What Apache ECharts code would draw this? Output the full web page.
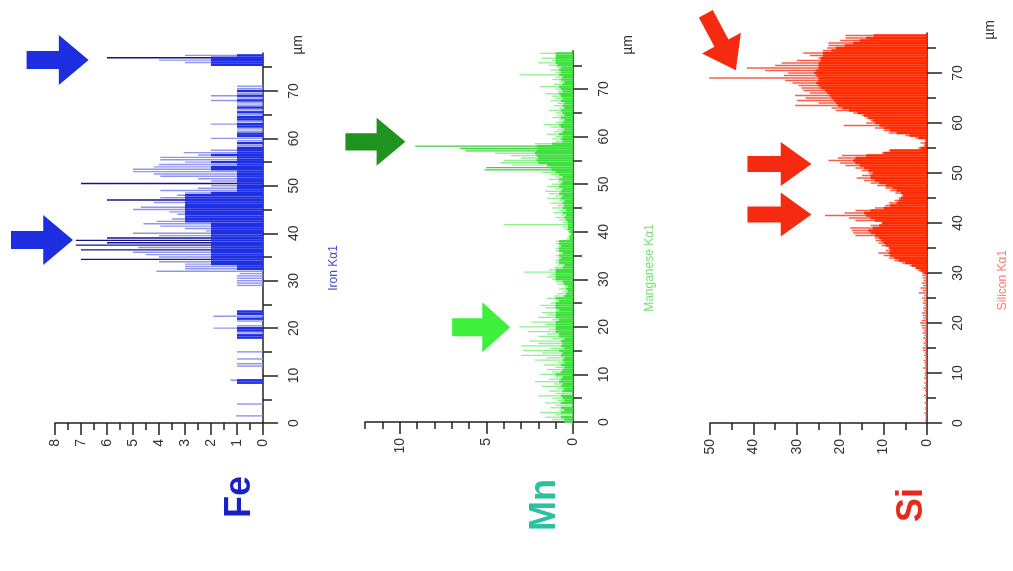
<!DOCTYPE html>
<html><head><meta charset="utf-8">
<script src="https://cdn.jsdelivr.net/npm/echarts@6/dist/echarts.min.js"></script>
<style>html,body{margin:0;padding:0;background:#fff}#c{width:1013px;height:571px}</style>
</head><body><div id="c"></div>
<script>
// ---- data (step 0.5 µm, index i -> i*0.5 µm) ----
const STEP = 0.5;
const umMajor = [0,10,20,30,40,50,60,70];
const umMinor = [5,15,25,35,45,55,65,75];

const feMax = [0,0,0,1.05,0,0,0,0,1.0,0, 0,0,0,0,0,0,0,1.0,1.25,0,
 0,0,0,0,1.0,1.0,0,1.0,0,0, 1.0,0,0,0,0,0,1.0,1.0,1.0,1.0,
 1.9,1.0,0,1.0,1.0,1.9,1.0,1.0,0,0, 0,0,0,0,0,0,0,0,1.0,1.0,
 1.0,1.0,1.0,0.9,4.1,3.0,3.0,3.0,4.0,7.0, 4.0,4.5,5.0,7.0,4.8,7.2,6.0,7.2,6.0,4.0,
 5.0,2.2,3.0,3.95,4.6,4.1,3.5,3.0,3.3,3.6, 5.0,4.7,3.0,4.2,6.0,3.95,3.3,3.0,3.95,2.5,
 2.0,7.0,2.0,2.5,3.95,4.2,5.0,5.0,4.2,4.0, 3.0,3.95,3.95,2.5,3.05,2.0,1.0,1.0,1.0,1.0,
 2.0,1.0,1.0,1.0,1.0,1.0,2.0,1.0,1.0,1.0, 1.0,1.0,1.0,1.0,1.0,1.0,2.0,1.0,2.0,1.0,
 1.0,1.0,1.0,0,0,0,0,0,0,0, 0,2.0,3.0,4.0,6.0,3.0];
const feCore = [0,0,0,0,0,0,0,0,0,0, 0,0,0,0,0,0,0,1.0,1.0,0,
 0,0,0,0,0,0,0,0,0,0, 0,0,0,0,0,0,1.0,1.0,0,1.0,
 1.0,0,0,0,1.0,0,1.0,1.0,0,0, 0,0,0,0,0,0,0,0,0,0,
 0,0,0,0,0,1.0,1.0,2.0,2.0,2.0, 2.0,2.0,2.0,2.0,2.0,2.0,2.0,2.0,2.0,2.0,
 2.0,2.0,2.0,2.0,2.0,3.0,3.0,3.0,3.0,3.0, 3.0,3.0,3.0,3.0,3.0,3.0,3.0,2.0,1.0,1.0,
 1.0,1.0,1.0,1.0,1.0,1.0,1.0,2.0,2.0,1.0, 2.0,1.0,1.0,2.0,1.0,1.0,1.0,0,1.0,0,
 0,1.0,1.0,0,0,1.0,1.0,0,1.0,1.0, 0,1.0,0,1.0,0,0,1.0,0,1.0,0,
 1.0,0,0,0,0,0,0,0,0,0, 0,2.0,2.0,2.0,2.0,1.0];

const mnMax = [0.5,1.2,1.6,1.0,1.9,0.8,1.3,1.0,1.6,0.9, 1.2,2.0,1.0,1.4,0.9,1.8,1.1,2.2,1.4,1.0,
 1.9,1.2,1.5,1.0,1.7,0.9,2.2,1.5,3.0,1.8, 2.9,1.3,3.0,2.0,2.5,1.2,2.0,1.5,2.6,1.4,
 3.1,1.6,2.4,1.2,2.0,1.5,1.8,1.0,1.6,1.9, 1.3,1.0,1.5,1.1,0.9,0.6,0.8,0.5,0.9,1.0,
 1.2,1.5,1.3,2.8,1.4,1.1,0.9,1.0,1.0,0.9, 1.0,0.8,1.0,1.0,0.9,1.0,1.0,0.4,0.3,0.2,
 0.3,0.5,0.6,4.0,0.6,0.8,1.0,0.7,1.1,0.8, 1.2,0.9,1.3,0.8,1.5,1.0,1.4,1.6,1.0,1.5,
 1.2,0.9,1.4,1.0,1.3,1.8,5.1,5.0,3.5,4.2, 4.0,3.0,3.6,4.5,6.2,6.5,9.1,2.2,1.0,1.2,
 1.0,1.5,1.1,0.9,1.3,1.7,1.0,0.8,1.2,0.9, 1.0,1.4,0.8,1.1,0.9,1.3,1.0,1.2,1.6,0.9,
 1.0,1.9,1.1,0.8,1.2,1.0,3.1,1.0,1.3,0.9, 1.4,2.0,1.2,1.8,1.0,1.9];
const mnCore = [0,0.5,0.7,0,0.7,0.5,0.7,0,0.7,0.5, 0.6,0.7,0,0.6,0.5,0.7,0.6,0.8,0.7,0.6,
 1.0,0.7,0.6,0.5,0.7,0.5,0.6,0.5,0.7,0.6, 0.8,0.5,0.7,0.6,0.7,0.5,0.8,0.8,1.0,1.0,
 1.0,1.0,1.0,0.8,1.0,1.0,1.0,0.8,1.0,1.0, 1.0,0.8,1.0,0.5,0.4,0.3,0.4,0.3,0.5,0.6,
 1.0,1.0,1.0,1.0,1.0,0.6,0.5,0.8,0.8,0.7, 0.8,0.6,0.8,0.8,0.7,0.8,0.8,0.2,0.2,0.1,
 0.2,0.3,0.3,0.3,0.3,0.4,0.5,0.4,0.6,0.4, 0.6,0.5,0.6,0.5,0.7,0.6,0.8,0.7,0.6,0.8,
 0.7,0.6,0.8,0.6,0.8,1.0,1.2,1.3,1.5,2.0, 2.1,2.0,2.1,2.2,2.1,2.0,2.1,1.2,0.6,0.7,
 0.6,0.8,0.6,0.5,0.7,0.8,0.6,0.5,0.7,0.5, 0.6,0.7,0.5,0.6,0.5,0.7,0.6,0.7,0.8,0.6,
 0.7,0.8,0.6,0.5,0.7,0.6,0.8,0.7,0.8,0.7, 0.9,1.0,1.0,1.0,1.0,1.0];

const siMax = [0,0.5,0,0.4,0.6,0,0.5,0.3,0.6,0, 0.4,0.7,0.3,0.5,0.8,0.4,0.6,0.3,0.7,0.5,
 0.6,0.4,0.9,0.5,0.6,0.8,0.4,0.7,0.5,0.9, 1.0,0.6,0.8,0.5,0.9,0.6,1.0,0.7,1.1,1.3,
 1.6,1.2,0.8,1.0,1.2,0.7,0.9,0.6,1.0,0.8, 1.1,0.7,1.9,1.0,1.5,0.9,1.2,0.8,1.0,1.1,
 1.2,2.0,2.7,4.0,5.8,7.5,8.8,10.0,11.2,9.5, 8.8,10.5,11.2,11.8,12.0,16.5,17.0,17.3,17.7,13.0,
 10.4,16.5,18.0,23.5,19.0,16.5,12.0,9.6,8.8,7.5, 6.5,5.8,7.3,8.5,9.6,11.5,13.0,14.5,16.2,15.0,
 13.5,15.0,16.5,18.8,20.0,22.7,20.5,19.6,10.4,8.8, 2.0,0.8,1.5,0.5,2.7,5.0,8.8,10.0,12.0,19.2,
 14.0,13.0,14.0,15.0,17.0,21.0,22.0,30.4,25.0,30.0, 28.0,30.4,27.0,28.5,29.0,29.6,31.0,32.7,50.2,33.0,
 32.0,37.3,41.5,35.0,33.5,30.0,25.0,27.0,28.5,24.0, 23.0,22.7,22.7,20.0,18.8,18.8];
const siCore = [0,0,0,0,0,0,0,0,0,0, 0,0,0,0,0,0,0,0,0,0,
 0,0,0,0,0,0,0,0,0,0, 0,0,0,0,0,0,0,0,0,0,
 0,0,0,0,0,0,0,0,0,0, 0,0,0,0,0,0,0,0,0,0,
 0.8,1.5,2.5,3.5,5.0,6.5,7.5,8.5,8.8,8.5, 8.8,9.5,10.0,10.5,11.0,12.0,13.0,13.5,12.5,11.0,
 10.4,12.0,13.0,14.0,14.5,13.0,10.0,8.5,7.0,6.5, 6.0,5.5,6.0,7.0,8.0,9.5,11.0,12.0,13.0,13.0,
 12.5,13.5,14.5,15.5,16.5,17.0,16.5,14.0,10.0,8.5, 1.5,0.5,0.5,0.3,2.0,4.0,7.0,8.5,10.0,11.0,
 12.0,12.5,13.5,14.5,16.0,18.0,19.5,20.5,21.0,21.5, 22.0,22.5,23.0,23.5,24.5,25.0,25.5,25.0,25.0,25.5,
 26.0,25.5,25.0,25.0,25.0,24.5,24.5,24.0,24.0,22.0, 21.0,19.0,17.0,15.5,14.0,12.3];

// arrow annotations: [intensity, µm] of arrow centre
const feArrows = [[8.5, 38.6], [7.9, 76.5]];
const mnArrowsDark = [[11.4, 58.9]];
const mnArrowsLight = [[5.3, 19.9]];
const siArrows = [[34.0, 51.8], [34.0, 41.7]];
const siArrowDiag = [[47.5, 76.2]];

// ---- helpers ----
const pairs = arr => arr.map((v, i) => [v, i * STEP]).filter(p => p[0] > 0);
function hbar(frac, colorFn) {
  return function (params, api) {
    const v = api.value(0), u = api.value(1);
    const a = api.coord([0, u]), b = api.coord([v, u]);
    const h = Math.max(1, api.size([0, STEP])[1] * frac);
    return { type: 'rect',
      shape: { x: Math.min(a[0], b[0]), y: a[1] - h / 2, width: Math.abs(b[0] - a[0]), height: h },
      style: { fill: colorFn(v) } };
  };
}
const AX = '#222';
const LBL = { color: '#333', fontSize: 14, fontFamily: 'Liberation Sans, Arial, sans-serif', rotate: 90 };
const ARROW = 'path://M0,32 L52,32 L52,0 L100,50 L52,100 L52,68 L0,68 Z';

function xAxes(grid, max, majors, minors) {
  return [
    { gridIndex: grid, type: 'value', min: 0, max: max, inverse: true, position: 'bottom',
      splitLine: { show: false },
      axisLine: { show: true, lineStyle: { color: AX, width: 1.5 } },
      axisTick: { show: true, customValues: majors, length: 12, lineStyle: { color: AX, width: 1.5 } },
      axisLabel: Object.assign({ customValues: majors, margin: 16 }, LBL) },
    { gridIndex: grid, type: 'value', min: 0, max: max, inverse: true, position: 'bottom',
      splitLine: { show: false }, axisLine: { show: false },
      axisTick: { show: true, customValues: minors, length: 7, lineStyle: { color: AX, width: 1.5 } },
      axisLabel: { show: false } }
  ];
}
function yAxes(grid) {
  return [
    { gridIndex: grid, type: 'value', min: 0, max: 78, position: 'right',
      splitLine: { show: false },
      axisLine: { show: true, lineStyle: { color: AX, width: 1.5 } },
      axisTick: { show: true, customValues: umMajor, length: 15, lineStyle: { color: AX, width: 1.5 } },
      axisLabel: Object.assign({ customValues: umMajor, margin: 24 }, LBL) },
    { gridIndex: grid, type: 'value', min: 0, max: 78, position: 'right',
      splitLine: { show: false }, axisLine: { show: false },
      axisTick: { show: true, customValues: umMinor, length: 9, lineStyle: { color: AX, width: 1.5 } },
      axisLabel: { show: false } }
  ];
}
function range(a, b, s) { const r = []; for (let v = a; v <= b + 1e-9; v += s) r.push(+v.toFixed(2)); return r; }

const chart = echarts.init(document.getElementById('c'), null, { renderer: 'canvas' });
const rot = Math.PI / 2;
function vtext(x, y, text, color, size, weight) {
  return { type: 'text', x: x, y: y, rotation: rot, z: 10,
    style: { text: text, fill: color, fontSize: size, fontWeight: weight || 'normal',
      fontFamily: 'Liberation Sans, Arial, sans-serif', align: 'center', verticalAlign: 'middle' } };
}

function custom(xi, yi, data, frac, colorFn, z) {
  return { type: 'custom', xAxisIndex: xi, yAxisIndex: yi, data: data, encode: { x: 0, y: 1 },
    renderItem: hbar(frac, colorFn), clip: false, silent: true, z: z };
}
function arrows(xi, yi, data, color, size, rotate) {
  return { type: 'scatter', xAxisIndex: xi, yAxisIndex: yi, data: data, symbol: ARROW,
    symbolSize: size, symbolRotate: rotate || 0, clip: false, silent: true, z: 5,
    itemStyle: { color: color, opacity: 1 } };
}

const option = {
  animation: false,
  backgroundColor: '#ffffff',
  grid: [
    { left: 55, right: 750, top: 53, bottom: 148 },
    { left: 365, right: 440, top: 51, bottom: 149 },
    { left: 710, right: 86, top: 33, bottom: 148 }
  ],
  xAxis: [].concat(
    xAxes(0, 8, range(0, 8, 1), range(0.5, 7.5, 1)),
    xAxes(1, 12, [0, 5, 10], [1, 2, 3, 4, 6, 7, 8, 9, 11, 12]),
    xAxes(2, 50, [0, 10, 20, 30, 40, 50], [5, 15, 25, 35, 45])
  ),
  yAxis: [].concat(yAxes(0), yAxes(1), yAxes(2)),
  series: [
    custom(0, 0, pairs(feMax), 0.6, v => v >= 5.9 ? '#14148a' : '#8f95ec', 2),
    custom(0, 0, pairs(feCore), 1.0, v => '#1f2fe3', 3),
    custom(2, 2, pairs(mnMax), 0.55, v => v >= 5 ? '#3fcf3f' : '#8ff08f', 2),
    custom(2, 2, pairs(mnCore), 1.0, v => '#3ee03e', 3),
    custom(4, 4, pairs(siMax), 0.6, v => '#f2604c', 2),
    custom(4, 4, pairs(siCore), 1.05, v => '#ff2a00', 3),
    arrows(0, 0, feArrows, '#1d2ee0', [62, 50]),
    arrows(2, 2, mnArrowsDark, '#1f931f', [60, 48]),
    arrows(2, 2, mnArrowsLight, '#3cf03c', [58, 50]),
    arrows(4, 4, siArrows, '#f52a10', [64, 44]),
    arrows(4, 4, siArrowDiag, '#f52a10', [64, 44], -62)
  ],
  graphic: [
    vtext(240, 497, 'Fe', '#1a1fc8', 36, 'bold'),
    vtext(545, 505, 'Mn', '#2bc0a0', 36, 'bold'),
    vtext(912, 505, 'Si', '#e8281a', 36, 'bold'),
    vtext(334, 268, 'Iron Kα1', '#4c4cc8', 12),
    vtext(650, 268, 'Manganese Kα1', '#78e078', 12),
    vtext(1003, 280, 'Silicon Kα1', '#ff7a6a', 12),
    vtext(298, 45, 'µm', '#333', 14),
    vtext(628, 45, 'µm', '#333', 14),
    vtext(990, 30, 'µm', '#333', 14)
  ]
};
chart.setOption(option);
</script>
</body></html>
